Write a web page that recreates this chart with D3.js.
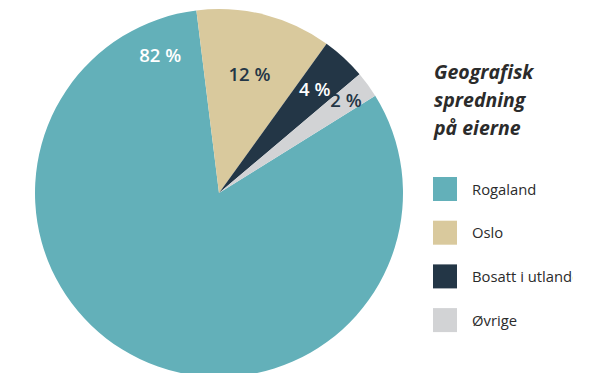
<!DOCTYPE html>
<html><head><meta charset="utf-8">
<script src="https://cdn.jsdelivr.net/npm/d3@7"></script>
<style>
html,body{margin:0;padding:0;background:#fff;}
svg{display:block;}
</style></head>
<body>
<script>
const categories = ["Rogaland", "Oslo", "Bosatt i utlandet", "Øvrige"];
const values = [81.9, 11.9, 3.9, 2.3];
const labels = ["82 %", "12 %", "4 %", "2 %"];
const legendTitle = ["Geografisk", "spredning", "på eierne"];

const colors = ["#63b0b9", "#d9c99d", "#233646", "#d2d3d5"];
const labelColors = ["#ffffff", "#233646", "#ffffff", "#233646"];
const labelRadius = [150, 123, 141, 157];
const labelAngleShift = [-16, 0, 0, 0]; // degrees, relative

const W = 601, H = 373;
const svg = d3.select("body").append("svg").attr("width", W).attr("height", H);
const cx = 219, cy = 193, R = 184;
const start = 58.1 * Math.PI / 180;

const pie = d3.pie().sort(null).value(d => d).startAngle(start).endAngle(start + 2 * Math.PI);
const arcs = pie(values);
const arc = d3.arc().innerRadius(0).outerRadius(R);

const g = svg.append("g").attr("transform", `translate(${cx},${cy})`);
g.selectAll("path").data(arcs).join("path")
  .attr("d", arc).attr("fill", (d, i) => colors[i]);

g.selectAll("text").data(arcs).join("text")
  .attr("transform", (d, i) => {
    let a = (d.startAngle + d.endAngle) / 2;
    if (i === 0) a = d.endAngle + labelAngleShift[i] * Math.PI / 180;
    const r = labelRadius[i];
    return `translate(${r * Math.sin(a)},${-r * Math.cos(a)})`;
  })
  .attr("text-anchor", "middle").attr("dy", "0.36em")
  .attr("fill", (d, i) => labelColors[i])
  .style("font-family", "'Open Sans', sans-serif").style("font-weight", "600").style("font-size", "18.5px")
  .text((d, i) => labels[i]);

svg.append("clipPath").attr("id", "lc").append("rect").attr("x", 0).attr("y", 0).attr("width", 573).attr("height", H);
const lg = svg.append("g").attr("clip-path", "url(#lc)");
lg.selectAll("text.title").data(legendTitle).join("text").attr("class", "title")
  .attr("x", 434).attr("y", (d, i) => 79 + i * 28)
  .attr("fill", "#2b2b2b")
  .style("font-family", "'Open Sans', sans-serif").style("font-weight", "700").style("font-style", "italic").style("font-size", "19.5px")
  .text(d => d);

const items = lg.selectAll("g.item").data(categories).join("g").attr("class", "item")
  .attr("transform", (d, i) => `translate(433,${177 + i * 43.7})`);
items.append("rect").attr("width", 24).attr("height", 24).attr("fill", (d, i) => colors[i]);
items.append("text").attr("x", 39).attr("y", 17.5).attr("fill", "#2b2b2b")
  .style("font-family", "'Open Sans', sans-serif").style("font-size", "14.8px")
  .text(d => d);
</script>
</body></html>
